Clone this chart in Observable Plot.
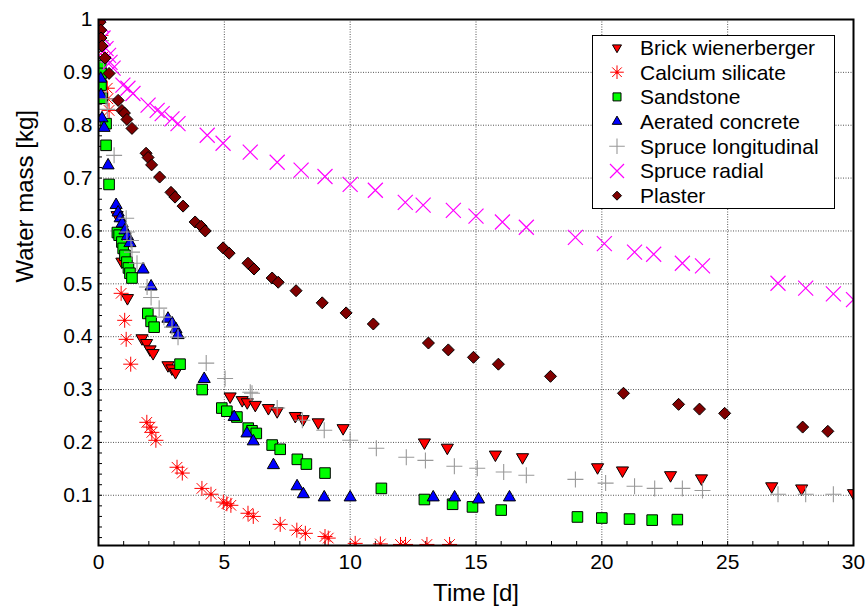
<!DOCTYPE html>
<html><head><meta charset="utf-8">
<script src="https://cdn.jsdelivr.net/npm/d3@7"></script>
<script src="https://cdn.jsdelivr.net/npm/@observablehq/plot@0.6"></script>
<style>html,body{margin:0;padding:0;background:#fff;} #chart{position:relative;width:867px;height:611px;}</style>
</head><body><div id="chart"></div>
<script>
// ---- data (time in days, water mass in kg) ----
const brickTime = [0.74, 0.93, 1.15, 1.73, 1.91, 2.05, 2.17, 2.76, 2.92, 3.06, 5.23, 5.71, 5.91, 6.23, 6.75, 7.1, 7.82, 8.13, 8.73, 9.72, 12.95, 13.86, 15.77, 16.85, 19.83, 20.82, 22.73, 23.96, 26.75, 27.94, 30.0];
const brickMass = [0.63, 0.542, 0.473, 0.397, 0.388, 0.376, 0.369, 0.346, 0.34, 0.333, 0.287, 0.28, 0.276, 0.271, 0.265, 0.259, 0.25, 0.244, 0.238, 0.227, 0.2, 0.19, 0.177, 0.172, 0.153, 0.147, 0.138, 0.132, 0.117, 0.113, 0.104];

const calciumTime = [0.1, 0.2, 0.35, 0.37, 0.42, 0.9, 1.04, 1.1, 1.28, 1.92, 2.05, 2.12, 2.28, 3.12, 3.33, 4.11, 4.47, 4.96, 5.1, 5.26, 5.94, 6.15, 7.22, 7.88, 8.22, 9.0, 9.13, 10.2, 11.2, 12.0, 12.2, 13.05, 13.95];
const calciumMass = [0.97, 0.93, 0.87, 0.85, 0.828, 0.482, 0.431, 0.395, 0.348, 0.238, 0.229, 0.219, 0.204, 0.153, 0.142, 0.113, 0.102, 0.087, 0.084, 0.081, 0.066, 0.06, 0.045, 0.034, 0.028, 0.022, 0.019, 0.009, 0.008, 0.007, 0.007, 0.007, 0.007];

const sandTime = [0.09, 0.1, 0.1, 0.14, 0.3, 0.3, 0.42, 0.75, 0.82, 0.93, 0.98, 1.05, 1.13, 1.19, 1.25, 1.33, 1.96, 2.09, 2.21, 3.24, 4.12, 4.9, 5.1, 5.5, 5.95, 6.1, 6.27, 6.9, 7.22, 7.9, 8.26, 9.0, 11.24, 12.95, 14.07, 14.86, 16.0, 19.03, 20.0, 21.1, 22.0, 23.0];
const sandMass = [0.913, 0.898, 0.876, 0.851, 0.803, 0.762, 0.688, 0.597, 0.592, 0.579, 0.567, 0.554, 0.541, 0.53, 0.52, 0.511, 0.444, 0.429, 0.418, 0.348, 0.3, 0.265, 0.259, 0.248, 0.227, 0.222, 0.217, 0.195, 0.187, 0.168, 0.159, 0.142, 0.113, 0.092, 0.083, 0.078, 0.072, 0.059, 0.057, 0.055, 0.053, 0.054];

const concreteTime = [0.09, 0.1, 0.14, 0.22, 0.38, 0.7, 0.78, 0.86, 0.94, 1.05, 1.15, 1.25, 1.77, 2.09, 2.76, 2.93, 3.08, 3.16, 4.2, 5.39, 5.9, 6.15, 6.95, 7.89, 8.14, 8.97, 10.0, 13.3, 14.15, 15.1, 16.33];
const concreteMass = [0.888, 0.857, 0.813, 0.795, 0.724, 0.649, 0.635, 0.624, 0.614, 0.601, 0.59, 0.577, 0.527, 0.495, 0.434, 0.425, 0.414, 0.403, 0.32, 0.248, 0.217, 0.202, 0.157, 0.117, 0.102, 0.096, 0.096, 0.096, 0.096, 0.092, 0.096];

const spruceLTime = [0.1, 0.2, 0.3, 0.35, 0.62, 1.1, 1.13, 1.29, 1.33, 1.53, 1.93, 2.09, 2.41, 2.6, 2.92, 3.16, 4.28, 5.03, 6.03, 6.1, 7.1, 8.1, 8.97, 10.0, 11.04, 12.23, 12.99, 14.14, 15.05, 16.1, 17.0, 18.95, 20.15, 21.3, 22.1, 23.2, 24.0, 27.0, 28.1, 29.2];
const spruceLMass = [0.96, 0.92, 0.85, 0.83, 0.743, 0.624, 0.598, 0.582, 0.56, 0.539, 0.494, 0.474, 0.454, 0.437, 0.418, 0.399, 0.35, 0.321, 0.295, 0.293, 0.265, 0.242, 0.223, 0.204, 0.189, 0.172, 0.166, 0.155, 0.151, 0.144, 0.138, 0.13, 0.123, 0.117, 0.113, 0.113, 0.109, 0.102, 0.102, 0.102];

const spruceRTime = [0.1, 0.18, 0.3, 0.4, 0.46, 0.58, 0.97, 1.17, 1.37, 1.97, 2.33, 2.53, 2.92, 3.16, 4.32, 4.95, 6.03, 7.1, 8.05, 9.0, 10.0, 11.0, 12.19, 12.9, 14.1, 15.0, 16.05, 17.0, 18.95, 20.1, 21.3, 22.06, 23.2, 24.0, 27.0, 28.1, 29.2, 30.0];
const spruceRMass = [0.99, 0.965, 0.945, 0.932, 0.919, 0.908, 0.876, 0.87, 0.86, 0.838, 0.828, 0.822, 0.812, 0.803, 0.781, 0.766, 0.749, 0.73, 0.715, 0.703, 0.688, 0.677, 0.654, 0.649, 0.639, 0.628, 0.617, 0.607, 0.588, 0.576, 0.56, 0.556, 0.539, 0.534, 0.501, 0.492, 0.481, 0.47];

const plasterTime = [0.06, 0.09, 0.1, 0.14, 0.26, 0.42, 0.78, 0.93, 1.03, 1.13, 1.33, 1.89, 1.97, 2.11, 2.43, 2.88, 3.04, 3.36, 3.84, 4.08, 4.24, 4.95, 5.19, 5.94, 6.18, 6.9, 7.14, 7.85, 8.89, 9.84, 10.92, 13.11, 13.9, 14.9, 15.89, 17.96, 20.86, 23.05, 23.88, 24.88, 27.98, 28.98];
const plasterMass = [0.995, 0.98, 0.965, 0.95, 0.927, 0.898, 0.847, 0.828, 0.823, 0.811, 0.794, 0.747, 0.739, 0.725, 0.702, 0.673, 0.664, 0.647, 0.617, 0.609, 0.6, 0.568, 0.558, 0.539, 0.528, 0.511, 0.503, 0.487, 0.464, 0.445, 0.424, 0.388, 0.375, 0.361, 0.348, 0.325, 0.293, 0.272, 0.263, 0.255, 0.229, 0.221];

const seriesNames = ["Brick wienerberger", "Calcium silicate", "Sandstone", "Aerated concrete", "Spruce longitudinal", "Spruce radial", "Plaster"];
const xTicks = [0, 5, 10, 15, 20, 25, 30];
const yTicks = [0.1, 0.2, 0.3, 0.4, 0.5, 0.6, 0.7, 0.8, 0.9, 1];
const xTitle = "Time [d]";
const yTitle = "Water mass [kg]";

// ---- symbols (size -> radius r) ----
function sym(fn) { return {draw(c, size) { fn(c, Math.sqrt(size / Math.PI)); }}; }
const triDown = sym((c, r) => { const u = r * Math.sqrt(3) / 2; c.moveTo(0, r); c.lineTo(-u, -r / 2); c.lineTo(u, -r / 2); c.closePath(); });
const triUp = sym((c, r) => { const u = r * Math.sqrt(3) / 2; c.moveTo(0, -r); c.lineTo(u, r / 2); c.lineTo(-u, r / 2); c.closePath(); });
const square = sym((c, r) => { c.rect(-r, -r, 2 * r, 2 * r); });
const diamond = sym((c, r) => { c.moveTo(0, -r); c.lineTo(r, 0); c.lineTo(0, r); c.lineTo(-r, 0); c.closePath(); });
const plus = sym((c, r) => { c.moveTo(-r, 0); c.lineTo(r, 0); c.moveTo(0, -r); c.lineTo(0, r); });
const times = sym((c, r) => { c.moveTo(-r, -r); c.lineTo(r, r); c.moveTo(-r, r); c.lineTo(r, -r); });
const star8 = sym((c, r) => { const d = r * Math.SQRT1_2;
  c.moveTo(-r, 0); c.lineTo(r, 0); c.moveTo(0, -r); c.lineTo(0, r);
  c.moveTo(-d, -d); c.lineTo(d, d); c.moveTo(-d, d); c.lineTo(d, -d);
  c.moveTo(1.2, 0); c.arc(0, 0, 1.2, 0, 2 * Math.PI); });

const series = [
  {name: seriesNames[0], t: brickTime, m: brickMass, symbol: triDown, r: 7, lr: 5.2, fill: "#ff0000", stroke: "#000", sw: 1},
  {name: seriesNames[1], t: calciumTime, m: calciumMass, symbol: star8, r: 7.5, lr: 6.8, fill: "none", stroke: "#ff0000", sw: 1},
  {name: seriesNames[2], t: sandTime, m: sandMass, symbol: square, r: 5.3, lr: 4, fill: "#00ff00", stroke: "#000", sw: 1},
  {name: seriesNames[3], t: concreteTime, m: concreteMass, symbol: triUp, r: 7, lr: 5.5, fill: "#0000ff", stroke: "#000", sw: 1},
  {name: seriesNames[4], t: spruceLTime, m: spruceLMass, symbol: plus, r: 8, lr: 7.8, fill: "none", stroke: "#999999", sw: 1.1},
  {name: seriesNames[5], t: spruceRTime, m: spruceRMass, symbol: times, r: 7.5, lr: 7, fill: "none", stroke: "#ff00ff", sw: 1.2},
  {name: seriesNames[6], t: plasterTime, m: plasterMass, symbol: diamond, r: 6, lr: 4.5, fill: "#800000", stroke: "#000", sw: 1}
];

const W = 867, H = 611, mT = 19, mR = 14, mB = 66, mL = 98;
const fw = W - mL - mR, fh = H - mT - mB;
const xMinor = d3.range(0, 31);
const yMinor = d3.range(1, 50).map(i => i / 50);

const dotMarks = series.map(s => Plot.dot(s.t.map((t, i) => ({t, m: s.m[i]})), {
  x: "t", y: "m", symbol: s.symbol, r: s.r, fill: s.fill, stroke: s.stroke, strokeWidth: s.sw, clip: true
}));

const chart = Plot.plot({
  width: W, height: H,
  marginTop: mT, marginRight: mR, marginBottom: mB, marginLeft: mL,
  x: {domain: [0, 30]},
  y: {domain: [0.005, 1]},
  style: {fontFamily: "'Liberation Sans', Arial, sans-serif", background: "white", color: "black"},
  marks: [
    Plot.gridX(xTicks.slice(1, -1), {stroke: "#555", strokeOpacity: 1, strokeDasharray: "1,1.5"}),
    Plot.gridY(yTicks.slice(0, -1), {stroke: "#555", strokeOpacity: 1, strokeDasharray: "1,1.5"}),
    Plot.tickX(xMinor, {x: d => d, stroke: "black", insetTop: fh - 4}),
    Plot.tickY(yMinor, {y: d => d, stroke: "black", insetRight: fw - 4}),
    ...dotMarks,
    Plot.frame({stroke: "black", strokeWidth: 2}),
    Plot.axisX(xTicks, {tickSize: 0, tickPadding: 9, fontSize: 21, label: null}),
    Plot.axisY(yTicks, {tickSize: 0, tickPadding: 6, fontSize: 21, label: null, tickFormat: d3.format("~g")}),
    Plot.text([xTitle], {text: d => d, frameAnchor: "bottom", dy: 55, fontSize: 24}),
    Plot.text([yTitle], {text: d => d, frameAnchor: "left", dx: -73, rotate: -90, fontSize: 24})
  ]
});
document.getElementById("chart").appendChild(chart);

// ---- legend box ----
const svg = d3.select(chart);
const lg = svg.append("g").attr("text-anchor", "start");
lg.append("rect").attr("x", 592.5).attr("y", 35.5).attr("width", 242).attr("height", 173)
  .attr("fill", "white").attr("stroke", "black").attr("stroke-width", 1);
series.forEach((s, i) => {
  const cy = 47.5 + i * 24.7;
  const p = d3.path();
  s.symbol.draw(p, Math.PI * s.lr * s.lr);
  lg.append("path").attr("d", p.toString()).attr("transform", `translate(617,${cy})`)
    .attr("fill", s.fill).attr("stroke", s.stroke).attr("stroke-width", s.sw);
  lg.append("text").attr("x", 640).attr("y", cy).attr("dy", "0.35em").attr("text-anchor", "start")
    .attr("font-size", 21).attr("fill", "black").text(s.name);
});
</script>
</body></html>
